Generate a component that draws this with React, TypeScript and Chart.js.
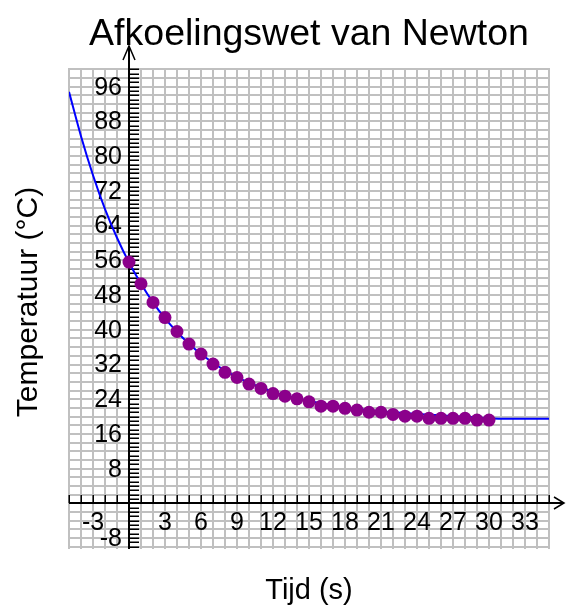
import React, { useEffect, useRef } from "react";
import { Chart, registerables } from "chart.js";

Chart.register(...registerables);

const titleText = "Afkoelingswet van Newton";
const xTitleText = "Tijd (s)";
const yTitleText = "Temperatuur (°C)";

// measured points (time in s, temperature in °C)
const measuredTimes = [0, 1, 2, 3, 4, 5, 6, 7, 8, 9, 10, 11, 12, 13, 14, 15, 16, 17, 18, 19, 20, 21, 22, 23, 24, 25, 26, 27, 28, 29, 30];
const measuredTemps = [55.6, 50.6, 46.3, 42.8, 39.6, 36.7, 34.4, 32.1, 30.2, 29.0, 27.5, 26.5, 25.3, 24.7, 24.1, 23.4, 22.4, 22.4, 21.9, 21.5, 21.0, 21.0, 20.5, 20.1, 20.1, 19.6, 19.6, 19.6, 19.6, 19.2, 19.2];

// fitted curve
const curveTimes = [-5, -4, -3, -2, -1, 0, 1, 2, 3, 4, 5, 6, 7, 8, 9, 10, 11, 12, 13, 14, 15, 16, 17, 18, 19, 20, 21, 22, 23, 24, 25, 26, 27, 28, 29, 30, 31, 32, 33, 34, 35];
const curveTemps = [94.8, 84.6, 75.6, 67.8, 61.2, 55.5, 50.6, 46.3, 42.6, 39.5, 36.8, 34.4, 32.4, 30.6, 29.1, 27.8, 26.7, 25.7, 24.9, 24.2, 23.6, 23.1, 22.6, 22.2, 21.8, 21.5, 21.2, 21.0, 20.8, 20.6, 20.4, 20.3, 20.1, 20.0, 19.8, 19.6, 19.5, 19.5, 19.5, 19.5, 19.5];

const xTickLabels = [-3, 3, 6, 9, 12, 15, 18, 21, 24, 27, 30, 33];
const yTickLabels = [-8, 8, 16, 24, 32, 40, 48, 56, 64, 72, 80, 88, 96];

const X_MIN = -5;
const X_MAX = 35;
const Y_MIN = -10.5;
const Y_MAX = 100.3;

const FONT = "'Liberation Sans', Arial, Helvetica, sans-serif";

const axesPlugin = {
  id: "axesPlugin",
  beforeDatasetsDraw(chart: any) {
    const { ctx, chartArea: a, scales } = chart;
    const xs = scales.x;
    const ys = scales.y;
    const x0 = Math.round(xs.getPixelForValue(0));
    const y0 = Math.round(ys.getPixelForValue(0));
    ctx.save();
    ctx.strokeStyle = "#000";
    ctx.lineCap = "butt";

    // y axis line + arrow
    ctx.lineWidth = 2;
    ctx.beginPath();
    ctx.moveTo(x0, a.bottom);
    ctx.lineTo(x0, a.top - 22);
    ctx.stroke();
    ctx.lineWidth = 1.5;
    ctx.beginPath();
    ctx.moveTo(x0 - 6, a.top - 8);
    ctx.lineTo(x0, a.top - 22);
    ctx.lineTo(x0 + 6, a.top - 8);
    ctx.stroke();

    // x axis line + arrow
    ctx.lineWidth = 2;
    ctx.beginPath();
    ctx.moveTo(a.left, y0);
    ctx.lineTo(a.right + 15, y0);
    ctx.stroke();
    ctx.lineWidth = 1.5;
    ctx.beginPath();
    ctx.moveTo(a.right + 5, y0 - 6);
    ctx.lineTo(a.right + 15, y0);
    ctx.lineTo(a.right + 5, y0 + 6);
    ctx.stroke();

    // y minor ticks
    ctx.lineWidth = 1.5;
    ctx.beginPath();
    for (let v = Math.ceil(Y_MIN); v <= Math.floor(Y_MAX); v++) {
      const py = Math.round(ys.getPixelForValue(v)) + 0.25;
      ctx.moveTo(x0, py);
      ctx.lineTo(x0 + 10, py);
    }
    ctx.stroke();

    // x ticks
    ctx.beginPath();
    for (let v = Math.ceil(X_MIN); v <= Math.floor(X_MAX); v++) {
      const px = Math.round(xs.getPixelForValue(v)) + 0.25;
      ctx.moveTo(px, y0);
      ctx.lineTo(px, y0 - 8);
    }
    ctx.stroke();

    // tick labels
    ctx.fillStyle = "#000";
    ctx.font = `25px ${FONT}`;
    ctx.textAlign = "right";
    ctx.textBaseline = "middle";
    yTickLabels.forEach((v) => {
      ctx.fillText(String(v), x0 - 7, ys.getPixelForValue(v) + 1);
    });
    ctx.textAlign = "center";
    ctx.textBaseline = "alphabetic";
    xTickLabels.forEach((v) => {
      ctx.fillText(String(v), xs.getPixelForValue(v), y0 + 27);
    });

    // titles
    const cx = (a.left + a.right) / 2;
    ctx.font = `37.5px ${FONT}`;
    ctx.fillText(titleText, cx, 45);
    ctx.font = `29px ${FONT}`;
    ctx.fillText(xTitleText, cx, 599);
    ctx.save();
    ctx.translate(37, 302);
    ctx.rotate(-Math.PI / 2);
    ctx.font = `30px ${FONT}`;
    ctx.fillText(yTitleText, 0, 0);
    ctx.restore();

    ctx.restore();
  },
};

export default function App() {
  const canvasRef = useRef<HTMLCanvasElement | null>(null);

  useEffect(() => {
    const canvas = canvasRef.current;
    if (!canvas) return;
    const measured = measuredTimes.map((t, i) => ({ x: t, y: measuredTemps[i] }));
    const curve = curveTimes.map((t, i) => ({ x: t, y: curveTemps[i] }));

    const chart = new Chart(canvas, {
      type: "line",
      data: {
        datasets: [
          {
            label: "metingen",
            data: measured,
            showLine: false,
            pointRadius: 6.5,
            pointHoverRadius: 6.5,
            pointBackgroundColor: "#8B008B",
            pointBorderColor: "#8B008B",
            pointBorderWidth: 0,
            backgroundColor: "#8B008B",
            borderColor: "#8B008B",
          },
          {
            label: "model",
            data: curve,
            borderColor: "#0000FF",
            borderWidth: 2,
            pointRadius: 0,
            cubicInterpolationMode: "monotone",
            fill: false,
          },
        ],
      },
      options: {
        responsive: false,
        animation: false,
        events: [],
        layout: { padding: { left: 69, right: 17, top: 68, bottom: 57 } },
        plugins: {
          legend: { display: false },
          tooltip: { enabled: false },
          title: { display: false },
        },
        scales: {
          x: {
            type: "linear",
            min: X_MIN,
            max: X_MAX,
            ticks: { display: false, stepSize: 1, includeBounds: false },
            grid: { color: "#c0c0c0", lineWidth: 2, drawTicks: false },
            border: { display: false },
          },
          y: {
            type: "linear",
            min: Y_MIN,
            max: Y_MAX,
            ticks: { display: false, stepSize: 2, includeBounds: false },
            grid: { color: "#c0c0c0", lineWidth: 2, drawTicks: false },
            border: { display: false },
          },
        },
      },
      plugins: [axesPlugin],
    });
    return () => chart.destroy();
  }, []);

  return (
    <div style={{ position: "absolute", left: 0, top: 0, width: 566, height: 606, background: "#fff" }}>
      <canvas ref={canvasRef} width={566} height={606} style={{ display: "block" }} />
    </div>
  );
}
